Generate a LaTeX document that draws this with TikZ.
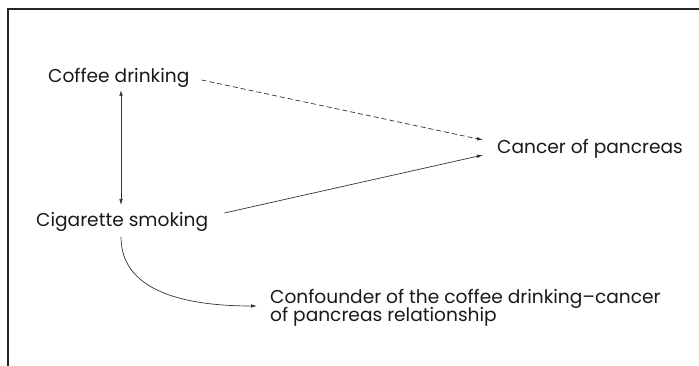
\documentclass[tikz,border=0pt]{standalone}
\usepackage{fontspec}
\setmainfont{Poppins}
\usetikzlibrary{arrows.meta,calc}

\begin{document}
\begin{tikzpicture}[
    x=1pt, y=1pt,
    factor/.style={inner sep=0pt, font=\fontsize{18.6}{16}\selectfont, text=black!90},
    arrow/.style={-{Latex[length=6pt,width=3.6pt]}, line width=0.7pt, black!80},
    frame/.style={line width=1.2pt, black!85}
]
    \useasboundingbox (0,0) rectangle (699,366);
    % Frame
    \draw[frame] (8,0) -- (8,357) -- (699,357);

    % Factors
    \node[factor, anchor=base west] (coffee) at (48,283) {Coffee drinking};
    \node[factor, anchor=base west] (smoking) at (36,139) {Cigarette smoking};
    \node[factor, anchor=base west] (cancer) at (497,212) {Cancer of pancreas};
    \node[factor, anchor=north west, align=left] (confounder) at (270,77)
        {Confounder of the coffee drinking--cancer\\[-2pt]of pancreas relationship};

    % Arrows
    \draw[arrow, {Latex[length=6pt,width=3.6pt]}-{Latex[length=6pt,width=3.6pt]}]
        ($(coffee.base west)+(73,-7)$) -- ($(smoking.base west)+(85,22)$);
    \draw[arrow, dashed, dash pattern=on 5pt off 3pt]
        ($(coffee.base east)+(12,3)$) -- ($(cancer.base west)+(-14,14)$);
    \draw[arrow] ($(smoking.base east)+(16,14)$) -- ($(cancer.base west)+(-14,-1)$);
    \draw[arrow] ($(smoking.base west)+(85,-10)$) to[out=-90, in=180]
        ($(confounder.north west)+(-13,-17)$);
\end{tikzpicture}
\end{document}
